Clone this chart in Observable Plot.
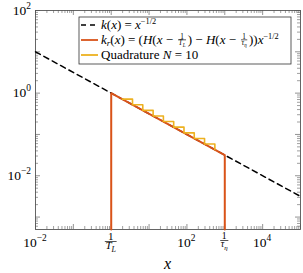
<!DOCTYPE html>
<html><head><meta charset="utf-8">
<script src="https://cdn.jsdelivr.net/npm/d3@7"></script>
<script src="https://cdn.jsdelivr.net/npm/@observablehq/plot@0.6"></script>
<style>body{margin:0;background:#fff}#chart{position:relative;width:303px;height:273px}#ov{position:absolute;left:0;top:0}
#ov text{font-family:"Liberation Serif","DejaVu Serif",serif;white-space:pre}</style>
</head><body><div id="chart"></div>
<script>
// ---- data ----
const kX = [0.01, 1e5];
const kY = [10, 0.003162];
const krX = [1, 1, 1000, 1000];
const krY = [5e-4, 1, 0.03162, 5e-4];
const quadX = [1.95, 3.65, 6.82, 12.8, 23.9, 44.7, 83.6, 156, 292, 547];
const quadY = [0.716, 0.523, 0.383, 0.280, 0.205, 0.150, 0.109, 0.080, 0.0585, 0.0428];
const xMajor = [1e-2, 1e-1, 1, 10, 100, 1e3, 1e4, 1e5];
const yMajor = [1e-3, 1e-2, 1e-1, 1, 10, 100];
const xPowLabels = [{v: 0.01, e: "−2"}, {v: 100, e: "2"}, {v: 1e4, e: "4"}];
const yPowLabels = [{v: 100, e: "2"}, {v: 1, e: "0"}, {v: 0.01, e: "−2"}];

const W = 303, H = 273, mt = 10, mb = 44, ml = 35, mr = 3;
const ih = H - mt - mb;
const iw = W - ml - mr;
const xMin = 1e-2, xMax = 1e5, yMin = 5e-4, yMax = 100;
const mult = [2, 3, 4, 5, 6, 7, 8, 9];
const xMinor = xMajor.flatMap(d => mult.map(m => d * m)).filter(v => v < xMax);
const yMinor = [1e-4, ...yMajor].flatMap(d => mult.map(m => d * m)).filter(v => v > yMin && v < yMax);
const tc = "#777";
const C_K = "#000", C_KR = "#D95319", C_Q = "#EDB120";

const plot = Plot.plot({
  width: W, height: H,
  marginTop: mt, marginBottom: mb, marginLeft: ml, marginRight: mr,
  style: {background: "#fff"},
  x: {type: "log", domain: [xMin, xMax], axis: null},
  y: {type: "log", domain: [yMin, yMax], axis: null},
  marks: [
    Plot.ruleX(xMajor, {insetTop: ih - 5, stroke: tc, strokeWidth: 0.8}),
    Plot.ruleX(xMajor, {insetBottom: ih - 5, stroke: tc, strokeWidth: 0.8}),
    Plot.ruleX(xMinor, {insetTop: ih - 3, stroke: tc, strokeWidth: 0.7}),
    Plot.ruleX(xMinor, {insetBottom: ih - 3, stroke: tc, strokeWidth: 0.7}),
    Plot.ruleY(yMajor, {insetRight: iw - 5, stroke: tc, strokeWidth: 0.8}),
    Plot.ruleY(yMajor, {insetLeft: iw - 5, stroke: tc, strokeWidth: 0.8}),
    Plot.ruleY(yMinor, {insetRight: iw - 3, stroke: tc, strokeWidth: 0.7}),
    Plot.ruleY(yMinor, {insetLeft: iw - 3, stroke: tc, strokeWidth: 0.7}),
    Plot.frame({stroke: "#555", strokeWidth: 0.9}),
    Plot.line(kX, {x: kX, y: kY, stroke: C_K, strokeWidth: 1.5, strokeDasharray: "5.5,4"}),
    Plot.line(krX, {x: krX, y: krY, stroke: C_KR, strokeWidth: 2}),
    Plot.line(quadX, {x: quadX, y: quadY, curve: "step-after", stroke: C_Q, strokeWidth: 1.6})
  ]
});
const chart = document.getElementById("chart");
chart.appendChild(plot);

const xs = plot.scale("x"), ys = plot.scale("y");
const ov = d3.select(chart).append("svg").attr("id", "ov").attr("width", W).attr("height", H);
const root = ov.append("g").attr("fill", "#000");
const FAM = "'Liberation Serif', 'DejaVu Serif', serif";

function layout(grp, parts, base) {
  let x = 0;
  for (const p of parts) {
    if (p.frac) {
      const s = p.s || 0.7, fs = base * s;
      const g = grp.append("g").attr("transform", `translate(${x + base * 0.1},0)`);
      const ng = g.append("g"), dg = g.append("g");
      const wn = layout(ng, p.frac[0], fs), wd = layout(dg, p.frac[1], fs);
      const w = Math.max(wn, wd) + base * 0.15;
      const bar = p.bar != null ? p.bar : -base * 0.32;
      ng.attr("transform", `translate(${(w - wn) / 2},${bar - fs * 0.12})`);
      dg.attr("transform", `translate(${(w - wd) / 2},${bar + fs * 0.72})`);
      g.append("line").attr("x1", base * 0.03).attr("x2", w - base * 0.03)
        .attr("y1", bar).attr("y2", bar).attr("stroke", "#000").attr("stroke-width", Math.max(0.6, base * 0.05));
      x += w + base * 0.2;
    } else {
      const fs = base * (p.s || 1);
      const t = grp.append("text").attr("x", x).attr("y", (p.dy || 0) * base)
        .attr("style", `font-family:${FAM};font-size:${fs}px;font-style:${p.i ? "italic" : "normal"};white-space:pre`)
        .text(p.t);
      x += t.node().getComputedTextLength();
    }
  }
  return x;
}
function place(parts, base, x, y, anchor) {
  const g = root.append("g");
  const w = layout(g, parts, base);
  const dx = anchor === "middle" ? -w / 2 : anchor === "end" ? -w : 0;
  g.attr("transform", `translate(${x + dx},${y})`);
  return w;
}

// axis tick labels
const AX = 13.5;
for (const d of xPowLabels) place([{t: "10"}, {t: d.e, s: 0.7, dy: -0.42}], AX, xs.apply(d.v), 247, "middle");
place([{frac: [[{t: "1"}], [{t: "T", i: 1}, {t: "L", i: 1, s: 0.72, dy: 0.22}]], s: 0.82, bar: -5}], AX, xs.apply(1), 246.5, "middle");
place([{frac: [[{t: "1"}], [{t: "τ", i: 1}, {t: "η", i: 1, s: 0.72, dy: 0.22}]], s: 0.72, bar: -6}], AX, xs.apply(1000), 246.5, "middle");
for (const d of yPowLabels) place([{t: "10"}, {t: d.e, s: 0.7, dy: -0.42}], AX, 31, ys.apply(d.v) + 4.5, "end");
place([{t: "x", i: 1}], 16, (ml + W - mr) / 2, 269, "middle");

// legend
const lx0 = 79, lx1 = 291, ly0 = 17, ly1 = 64;
root.append("rect").attr("x", lx0).attr("y", ly0).attr("width", lx1 - lx0).attr("height", ly1 - ly0)
  .attr("fill", "#fff").attr("stroke", "#333").attr("stroke-width", 0.8);
const rows = [25, 40, 55];
const cols = [C_K, C_KR, C_Q];
rows.forEach((ry, i) => {
  root.append("line").attr("x1", 81).attr("x2", 98).attr("y1", ry).attr("y2", ry)
    .attr("stroke", cols[i]).attr("stroke-width", i === 0 ? 1.5 : 1.8)
    .attr("stroke-dasharray", i === 0 ? "5,4" : null);
});
const LF = 13;
const sup = [{t: "−1/2", s: 0.64, dy: -0.42}];
place([{t: "k", i: 1}, {t: "("}, {t: "x", i: 1}, {t: ") = "}, {t: "x", i: 1}, ...sup], LF, 101, rows[0] + 4);
place([{t: "k", i: 1}, {t: "r", i: 1, s: 0.7, dy: 0.18}, {t: "("}, {t: "x", i: 1}, {t: ") = ("}, {t: "H", i: 1}, {t: "("}, {t: "x", i: 1}, {t: " − "},
  {frac: [[{t: "1"}], [{t: "T", i: 1}, {t: "L", i: 1, s: 0.7, dy: 0.2}]], s: 0.56},
  {t: ") − "}, {t: "H", i: 1}, {t: "("}, {t: "x", i: 1}, {t: " − "},
  {frac: [[{t: "1"}], [{t: "τ", i: 1}, {t: "η", i: 1, s: 0.7, dy: 0.2}]], s: 0.56},
  {t: "))"}, {t: "x", i: 1}, ...sup], LF, 101, rows[1] + 4);
place([{t: "Quadrature "}, {t: "N", i: 1}, {t: " = 10"}], LF, 101, rows[2] + 4);
</script>
</body></html>
